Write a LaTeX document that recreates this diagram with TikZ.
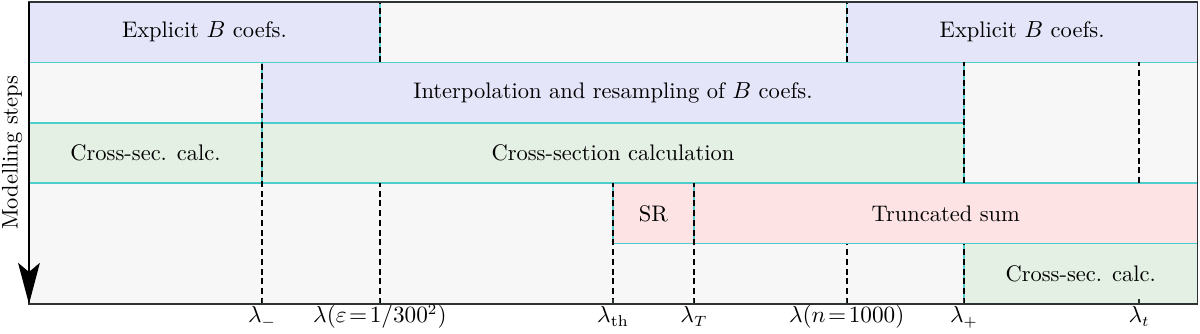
\documentclass[tikz,border=0pt]{standalone}
\usepackage{fontspec}
\usetikzlibrary{arrows.meta}

\definecolor{bggray}{RGB}{247,247,247}
\definecolor{coefblue}{RGB}{229,229,250}
\definecolor{calcgreen}{RGB}{229,240,228}
\definecolor{sumpink}{RGB}{253,227,228}
\definecolor{edgecyan}{RGB}{78,205,205}
\definecolor{framegray}{RGB}{45,50,50}

\begin{document}
\begin{tikzpicture}[
  stage/.style={draw=edgecyan,line width=0.7pt},
  steplabel/.style={font=\fontsize{10.6}{12.7}\selectfont},
  cutoff/.style={line width=0.9pt,dash pattern=on 2.8pt off 1.8pt},
  ticklabel/.style={anchor=base,inner sep=0pt,font=\fontsize{10.6}{12.7}\selectfont},
]
\useasboundingbox (-0.48,-0.497) rectangle (19.39,5.033);

% Background
\fill[bggray] (0,0) rectangle (19.35,5);

% Row 1: explicit coefficients
\draw[stage,fill=coefblue] (0,4) rectangle (5.81,5);
\draw[stage,fill=coefblue] (13.54,4) rectangle (19.35,5);
\node[steplabel] (coefsleft) at (2.905,4.5) {Explicit $B$ coefs.};
\node[steplabel] (coefsright) at (16.445,4.5) {Explicit $B$ coefs.};

% Row 2: interpolation
\draw[stage,fill=coefblue] (3.86,3) rectangle (15.48,4);
\node[steplabel] (interp) at (9.67,3.5) {Interpolation and resampling of $B$ coefs.};

% Row 3: cross-section calculation
\draw[stage,fill=calcgreen] (0,2) rectangle (3.86,3);
\draw[stage,fill=calcgreen] (3.86,2) rectangle (15.48,3);
\node[steplabel] (calcleft) at (1.93,2.5) {Cross-sec. calc.};
\node[steplabel] (calcmid) at (9.67,2.5) {Cross-section calculation};

% Row 4: summation
\draw[stage,fill=sumpink] (9.67,1) rectangle (11.01,2);
\draw[stage,fill=sumpink] (11.01,1) rectangle (19.35,2);
\node[steplabel] (sr) at (10.34,1.5) {SR};
\node[steplabel] (truncsum) at (15.18,1.5) {Truncated sum};

% Row 5: cross-section calculation
\draw[stage,fill=calcgreen] (15.48,0) rectangle (19.35,1);
\node[steplabel] (calcright) at (17.415,0.5) {Cross-sec. calc.};

% Wavelength limits (visible parts)
\draw[cutoff] (3.86,0) -- (3.86,4);
\draw[cutoff] (5.81,0) -- (5.81,2);
\draw[cutoff] (5.81,4) -- (5.81,5);
\draw[cutoff] (9.67,0) -- (9.67,2);
\draw[cutoff] (11.01,0) -- (11.01,2);
\draw[cutoff] (13.54,0) -- (13.54,1);
\draw[cutoff] (13.54,4) -- (13.54,5);
\draw[cutoff] (15.48,0) -- (15.48,1);
\draw[cutoff] (15.48,2) -- (15.48,4);
\draw[cutoff] (18.38,2) -- (18.38,4);

% Ticks
\draw[framegray,line width=0.5pt] (3.86,0) -- (3.86,0.08);
\draw[framegray,line width=0.5pt] (5.81,0) -- (5.81,0.08);
\draw[framegray,line width=0.5pt] (9.67,0) -- (9.67,0.08);
\draw[framegray,line width=0.5pt] (11.01,0) -- (11.01,0.08);
\draw[framegray,line width=0.5pt] (13.54,0) -- (13.54,0.08);
\draw[framegray,line width=0.5pt] (15.48,0) -- (15.48,0.08);
\draw[framegray,line width=0.5pt] (18.38,0) -- (18.38,0.08);

% Frame and axis
\draw[framegray,line width=0.8pt] (0,0) rectangle (19.35,5);
\draw[line width=0.8pt,-{Stealth[length=0.68cm,width=0.36cm,inset=0.15cm]}] (0,5) -- (0,0);
\node[steplabel,rotate=90] (axis) at (-0.28,2.5) {Modelling steps};

% Tick labels
\node[ticklabel] (lminus) at (3.86,-0.315) {$\lambda_-$};
\node[ticklabel] (leps) at (5.81,-0.315) {$\lambda(\varepsilon\!=\!1/300^2)$};
\node[ticklabel] (lth) at (9.67,-0.315) {$\lambda_{\mathrm{th}}$};
\node[ticklabel] (lT) at (11.01,-0.315) {$\lambda_T$};
\node[ticklabel] (ln) at (13.54,-0.315) {$\lambda(n\!=\!1000)$};
\node[ticklabel] (lplus) at (15.48,-0.315) {$\lambda_+$};
\node[ticklabel] (lt) at (18.38,-0.315) {$\lambda_t$};

\end{tikzpicture}
\end{document}
